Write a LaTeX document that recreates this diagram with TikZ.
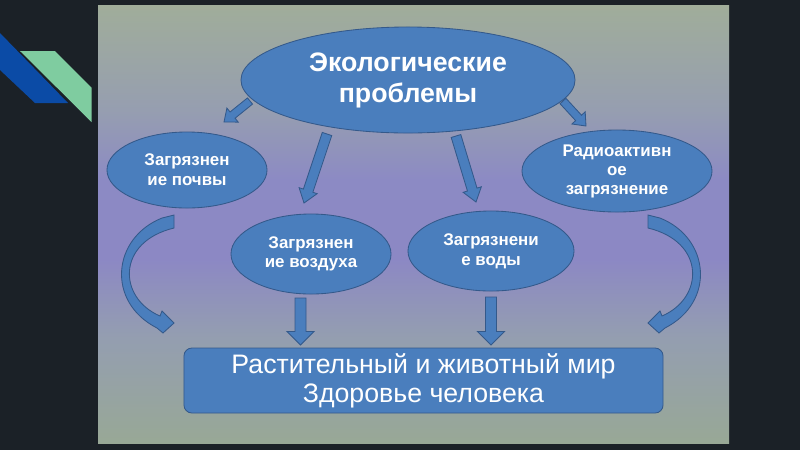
\documentclass[tikz,border=0pt]{standalone}
\usepackage{fontspec}
\setmainfont{Liberation Sans}
\usetikzlibrary{calc,shapes.geometric}
\definecolor{bgdark}{HTML}{1B2127}
\definecolor{dblue}{HTML}{0B4BA6}
\definecolor{dgreen}{HTML}{7FCCA0}
\definecolor{efill}{HTML}{4A7EBD}
\definecolor{eline}{HTML}{34598A}
\pgfdeclareverticalshading{panelshade}{100bp}{%
  color(0bp)=(rgb,255:red,152;green,168;blue,150);
  color(25bp)=(rgb,255:red,152;green,168;blue,150);
  color(37bp)=(rgb,255:red,148;green,158;blue,176);
  color(46bp)=(rgb,255:red,140;green,136;blue,196);
  color(55bp)=(rgb,255:red,140;green,138;blue,196);
  color(63bp)=(rgb,255:red,150;green,158;blue,176);
  color(75bp)=(rgb,255:red,160;green,173;blue,154);
  color(100bp)=(rgb,255:red,160;green,173;blue,154)}
\newcommand\blockarrow[5]{%
  \coordinate (bah) at ($(#2)!{#5*0.025cm}!(#1)$);
  \draw[barrowst] ($(#1)!{#3*0.025cm}!90:(#2)$) -- ($(bah)!{#3*0.025cm}!90:(#2)$)
    -- ($(bah)!{#4*0.025cm}!90:(#2)$) -- (#2) -- ($(bah)!{#4*0.025cm}!-90:(#2)$)
    -- ($(bah)!{#3*0.025cm}!-90:(#2)$) -- ($(#1)!{#3*0.025cm}!-90:(#2)$) -- cycle;
}
\tikzset{
  eli/.style={ellipse, draw=eline, fill=efill, line width=0.6pt, inner sep=0pt,
    text=white, align=center, font=\fontsize{12}{14}\selectfont\bfseries},
  barrowst/.style={draw=eline, fill=efill, line width=0.6pt, line join=miter},
  boxst/.style={rectangle, rounded corners=0.2cm, draw=eline, fill=efill, line width=0.6pt,
    text=white, align=center, font=\fontsize{19}{20.5}\selectfont}
}
\begin{document}
\begin{tikzpicture}[x=0.025cm, y=-0.025cm]
\useasboundingbox (0,0) rectangle (800,450);
\fill[bgdark] (0,0) rectangle (800,450);
% decoration
\fill[dblue] (0,33) -- (68,103) -- (35,103) -- (0,70) -- cycle;
\fill[dgreen] (20,51) -- (55,51) -- (91.5,87.5) -- (91.5,122) -- cycle;
% panel
\shade[shading=panelshade] (98,5) rectangle (729,443);
% nodes
\node[eli, minimum width=8.35cm, minimum height=2.65cm, font=\fontsize{19}{22}\selectfont\bfseries] (top) at (408,80) {Экологические\\проблемы};
\node[eli, minimum width=4cm, minimum height=1.9cm] (soil) at (187,170) {Загрязнен\\ие почвы};
\node[eli, minimum width=4cm, minimum height=2cm] (air) at (311,254) {Загрязнен\\ие воздуха};
\node[eli, minimum width=4.15cm, minimum height=2cm] (water) at (491,251) {Загрязнени\\е воды};
\node[eli, minimum width=4.75cm, minimum height=2.05cm, font=\fontsize{12}{13.5}\selectfont\bfseries] (radio) at (617,171) {Радиоактивн\\ое\\загрязнение};
\node[boxst, minimum width=11.975cm, minimum height=1.625cm] (res) at (423.5,380.5) {Растительный и животный мир\\Здоровье человека};
% arrow end points
\coordinate (a1s) at (250,101); \coordinate (a1e) at (224,122);
\coordinate (a2s) at (327,134); \coordinate (a2e) at (304,203);
\coordinate (a3s) at (456,136); \coordinate (a3e) at (476,202);
\coordinate (a4s) at (563,101); \coordinate (a4e) at (586,126);
\coordinate (a5s) at (300.5,298); \coordinate (a5e) at (300.5,345);
\coordinate (a6s) at (491,297); \coordinate (a6e) at (491,345);
\blockarrow{a1s}{a1e}{4}{9}{11}
\blockarrow{a2s}{a2e}{5}{9.5}{13}
\blockarrow{a3s}{a3e}{5}{9.5}{13}
\blockarrow{a4s}{a4e}{4}{9}{11}
\blockarrow{a5s}{a5e}{5.5}{13.5}{13.5}
\blockarrow{a6s}{a6e}{5.5}{13.5}{13.5}
% curved arrows
\draw[barrowst] (174,215) -- (162,218) .. controls (112,238) and (106,302) .. (157,328)
  -- (163,333) -- (174,323) -- (162,311) -- (160,316)
  .. controls (118,298) and (116,242) .. (174,228) -- cycle;
\begin{scope}[xshift=822*0.025cm, xscale=-1]
\draw[barrowst] (174,215) -- (162,218) .. controls (112,238) and (106,302) .. (157,328)
  -- (163,333) -- (174,323) -- (162,311) -- (160,316)
  .. controls (118,298) and (116,242) .. (174,228) -- cycle;
\end{scope}
\end{tikzpicture}
\end{document}
